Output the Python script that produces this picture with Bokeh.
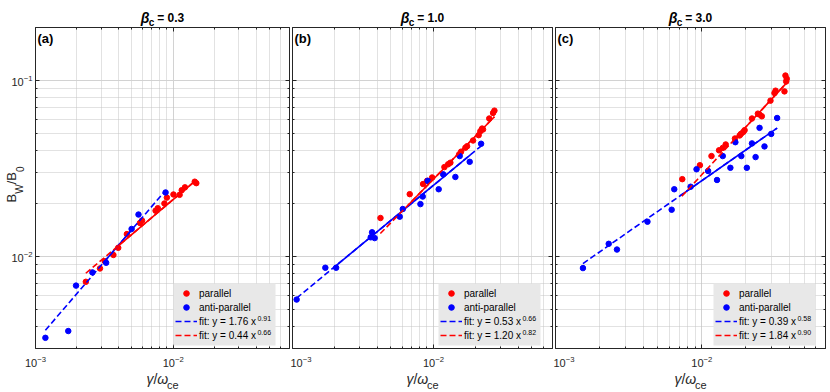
import math
from bokeh.plotting import figure
from bokeh.models import (Range1d, FixedTicker, LogAxis, Label, Legend, LegendItem,
                          BoxAnnotation, CustomJSTickFormatter)
from bokeh.layouts import row
from bokeh.embed import file_html
from bokeh.resources import INLINE

FONT = "Liberation Sans"
RED = "#ff0000"
BLUE = "#0000ff"
AX = "#262626"

X_LIM = (1e-3, 0.07)
Y_LIM = (0.003, 0.2)
X_MAJOR = [1e-3, 1e-2]
X_MINOR = [2e-3, 3e-3, 4e-3, 5e-3, 6e-3, 7e-3, 8e-3, 9e-3, 2e-2, 3e-2, 4e-2, 5e-2, 6e-2, 7e-2]
Y_MAJOR = [1e-2, 1e-1]
Y_MINOR = [3e-3, 4e-3, 5e-3, 6e-3, 7e-3, 8e-3, 9e-3, 2e-2, 3e-2, 4e-2, 5e-2, 6e-2, 7e-2,
           8e-2, 9e-2, 2e-1]

BETAS = ["0.3", "1.0", "3.0"]
PANEL_TAGS = ["(a)", "(b)", "(c)"]

# ---- panel (a): beta_c = 0.3 ----
A_PAR_X = [0.00232, 0.00294, 0.00319, 0.00368, 0.00399, 0.00461, 0.00574, 0.00594, 0.00745,
           0.00773, 0.00864, 0.0090, 0.01005, 0.01114, 0.01154, 0.01218, 0.01435, 0.01473]
A_PAR_Y = [0.00718, 0.00855, 0.0094, 0.0102, 0.0112, 0.0134, 0.0155, 0.0160, 0.0182,
           0.0188, 0.0200, 0.0216, 0.0225, 0.0224, 0.0238, 0.0247, 0.0266, 0.0261]
A_ANTI_X = [0.00118, 0.00173, 0.00197, 0.00259, 0.00326, 0.00499, 0.0056, 0.00881]
A_ANTI_Y = [0.00345, 0.00377, 0.00683, 0.00812, 0.00921, 0.01433, 0.01731, 0.0231]
A_FIT_ANTI = (1.76, 0.91)
A_FIT_PAR = (0.44, 0.66)
A_ANTI_DASH = [0.00118, 0.0088]
A_ANTI_SOLID = [0.0031, 0.0049]
A_PAR_DASH = [0.00232, 0.0147]
A_PAR_SOLID = [0.0038, 0.0147]

# ---- panel (b): beta_c = 1.0 ----
B_PAR_X = [0.0271, 0.0265, 0.0249, 0.02215, 0.02154, 0.02094, 0.0225, 0.01912, 0.01734, 0.01687,
           0.01572, 0.01522, 0.0132, 0.01272, 0.01197, 0.00979, 0.00902, 0.00845, 0.00679, 0.00421]
B_PAR_Y = [0.0674, 0.0654, 0.0608, 0.0533, 0.0515, 0.0489, 0.0527, 0.0456, 0.0423, 0.0415,
           0.0394, 0.0380, 0.0341, 0.0334, 0.0322, 0.0281, 0.0269, 0.0258, 0.0226, 0.01654]
B_ANTI_X = [0.0218, 0.01809, 0.01536, 0.01432, 0.01172, 0.0109, 0.00911, 0.0084, 0.00809,
            0.00606, 0.00577, 0.00367, 0.00359, 0.00383, 0.00171, 0.00204, 0.00107]
B_ANTI_Y = [0.0437, 0.0345, 0.0372, 0.0283, 0.0293, 0.0241, 0.0269, 0.0219, 0.01984,
            0.0186, 0.01683, 0.01372, 0.01285, 0.01272, 0.00863, 0.00863, 0.00569]
B_FIT_ANTI = (0.53, 0.66)
B_FIT_PAR = (1.20, 0.82)
B_ANTI_DASH = [0.00107, 0.0218]
B_ANTI_SOLID = [0.0020, 0.0183]
B_PAR_DASH = [0.0042, 0.0271]
B_PAR_SOLID = [0.0066, 0.0271]

# ---- panel (c): beta_c = 3.0 ----
C_PAR_X = [0.03727, 0.03804, 0.0377, 0.0367, 0.0319, 0.03137, 0.02946, 0.0257, 0.0248, 0.02415,
           0.022, 0.0196, 0.0192, 0.0185, 0.01813, 0.01684, 0.01456, 0.0139, 0.01311, 0.01164,
           0.0097, 0.00735]
C_PAR_Y = [0.1067, 0.1022, 0.0987, 0.0867, 0.0875, 0.0848, 0.0768, 0.0626, 0.0640, 0.0648,
           0.0608, 0.0522, 0.0510, 0.0497, 0.0487, 0.0468, 0.0433, 0.0414, 0.0401, 0.0372,
           0.0330, 0.0275]
C_ANTI_X = [0.0327, 0.0248, 0.0298, 0.01695, 0.022, 0.0268, 0.0139, 0.01862, 0.0233, 0.01567,
            0.0203, 0.0092, 0.01104, 0.0127, 0.00838, 0.00648, 0.00622, 0.00425, 0.00231,
            0.00263, 0.00154]
C_ANTI_Y = [0.0612, 0.0538, 0.0497, 0.0446, 0.0439, 0.0422, 0.0372, 0.0372, 0.0367, 0.0319,
            0.0319, 0.0313, 0.0306, 0.0272, 0.0249, 0.0241, 0.01843, 0.01576, 0.0118,
            0.01095, 0.00859]
C_FIT_ANTI = (0.39, 0.58)
C_FIT_PAR = (1.84, 0.90)
C_ANTI_DASH = [0.00154, 0.0327]
C_ANTI_SOLID = [0.0071, 0.0327]
C_PAR_DASH = [0.0073, 0.0377]
C_PAR_SOLID = [0.0163, 0.0377]

# approximate Arial / Liberation Sans advance widths (per 1000 em)
WID = {' ': 278, '(': 333, ')': 333, '.': 278, '/': 278, ':': 278, '=': 584, '-': 333,
       'a': 556, 'b': 556, 'c': 500, 'e': 556, 'f': 278, 'i': 222, 'l': 222, 'n': 556,
       'p': 556, 'r': 333, 't': 278, 'x': 500, 'y': 500, 'B': 667, 'W': 944,
       'β': 575, 'γ': 500, 'ω': 690}


def tw(s, size):
    return sum(WID.get(ch, 556) for ch in s) * size / 1000.0


def rich(p, parts, x, y, vertical=False, color="#000000"):
    total = sum(tw(t, s) for t, s, _, _ in parts)
    off = -total / 2.0
    for t, s, shift, style in parts:
        core = t.lstrip(" ")
        lead = tw(t[:len(t) - len(core)], s)
        if vertical:
            lab = Label(x=x - shift, y=y + off + lead, angle=math.pi / 2)
        else:
            lab = Label(x=x + off + lead, y=y + shift)
        lab.update(x_units="screen", y_units="screen", text=core, text_font=FONT,
                   text_font_size=f"{s}px", text_font_style=style, text_align="left",
                   text_baseline="alphabetic", text_color=color)
        p.add_layout(lab)
        off += tw(t, s)


def fit_y(fit, xs):
    a, b = fit
    return [a * xv ** b for xv in xs]


def log_range(lim, px_lo, px_hi, total):
    lo, hi = math.log10(lim[0]), math.log10(lim[1])
    d = (px_hi - px_lo) / (hi - lo)
    return Range1d(10 ** (lo - px_lo / d), 10 ** (hi + (total - px_hi) / d))


FIG_H = 390
BOX_TOP = 27      # px from figure top
BOX_BOT = 348     # px from figure top


def style_axis(ax, is_x, labels):
    ax.ticker = FixedTicker(ticks=X_MAJOR if is_x else Y_MAJOR,
                            minor_ticks=X_MINOR if is_x else Y_MINOR)
    ax.bounds = X_LIM if is_x else Y_LIM
    ax.major_tick_in = 4
    ax.major_tick_out = 0
    ax.minor_tick_in = 2
    ax.minor_tick_out = 0
    ax.axis_line_color = AX
    ax.major_tick_line_color = AX
    ax.minor_tick_line_color = AX
    if labels:
        ax.major_label_text_font = FONT
        ax.major_label_text_font_size = "11px"
        ax.major_label_text_color = AX
        ax.major_label_standoff = 7 if is_x else 3
    else:
        ax.formatter = CustomJSTickFormatter(code="return ''")
        ax.major_label_text_font_size = "1px"
        ax.major_label_text_alpha = 0
        ax.major_label_standoff = 0


def panel(i, width, bl, br, par_x, par_y, anti_x, anti_y, fit_anti, fit_par,
          anti_dash, anti_solid, par_dash, par_solid, box_left):
    H = FIG_H
    L, R = bl, width - br
    p = figure(width=width, height=H, x_axis_type="log", y_axis_type="log",
               x_range=log_range(X_LIM, L, R, width),
               y_range=log_range(Y_LIM, H - BOX_BOT, H - BOX_TOP, H),
               output_backend="svg", toolbar_location=None,
               min_border=0, min_border_left=0, min_border_right=0,
               min_border_top=0, min_border_bottom=0)
    p.outline_line_color = None
    p.background_fill_color = "#ffffff"
    p.border_fill_color = "#ffffff"

    bottom = p.xaxis[0]
    left = p.yaxis[0]
    style_axis(bottom, True, True)
    style_axis(left, False, i == 0)
    bottom.fixed_location = Y_LIM[0]
    left.fixed_location = X_LIM[0]
    top = LogAxis()
    right = LogAxis()
    style_axis(top, True, False)
    style_axis(right, False, False)
    top.fixed_location = Y_LIM[1]
    right.fixed_location = X_LIM[1]
    p.add_layout(top, "above")
    p.add_layout(right, "right")

    p.xgrid.ticker = bottom.ticker
    p.ygrid.ticker = left.ticker
    p.xgrid.bounds = X_LIM
    p.ygrid.bounds = Y_LIM
    p.xgrid.cross_bounds = Y_LIM
    p.ygrid.cross_bounds = X_LIM
    for g in (p.xgrid, p.ygrid):
        g.grid_line_color = "#d2d2d2"
        g.minor_grid_line_color = "#c4c4c4"
        g.minor_grid_line_dash = "1 1"

    r_par = p.scatter(par_x, par_y, size=5.5, color=RED)
    r_anti = p.scatter(anti_x, anti_y, size=5.5, color=BLUE)
    r_ad = p.line(anti_dash, fit_y(fit_anti, anti_dash), color=BLUE, line_width=1.6,
                  line_dash="6 3")
    p.line(anti_solid, fit_y(fit_anti, anti_solid), color=BLUE, line_width=1.6)
    r_pd = p.line(par_dash, fit_y(fit_par, par_dash), color=RED, line_width=1.6,
                  line_dash="6 3")
    p.line(par_solid, fit_y(fit_par, par_solid), color=RED, line_width=1.6)

    lb = box_left
    vb = H - 345
    box = BoxAnnotation(left=lb, right=lb + 102, bottom=vb, top=vb + 62,
                        left_units="screen", right_units="screen",
                        bottom_units="screen", top_units="screen",
                        fill_color="#e8e8e8", fill_alpha=1.0, line_color=None)
    p.add_layout(box)
    lbl_a = f"fit: y = {fit_anti[0]:.2f} x"
    lbl_p = f"fit: y = {fit_par[0]:.2f} x"
    legend = Legend(items=[LegendItem(label="parallel", renderers=[r_par]),
                           LegendItem(label="anti-parallel", renderers=[r_anti]),
                           LegendItem(label=lbl_a, renderers=[r_ad]),
                           LegendItem(label=lbl_p, renderers=[r_pd])],
                    location=(lb - 1, vb), padding=3, spacing=0, margin=0,
                    glyph_width=22, glyph_height=14, label_height=14, label_standoff=2,
                    background_fill_alpha=0, border_line_alpha=0,
                    label_text_font=FONT, label_text_font_size="10px",
                    label_text_color="#000000")
    p.add_layout(legend)
    tx = lb + 26
    for lbl, fit, cy in ((lbl_a, fit_anti, vb + 24), (lbl_p, fit_par, vb + 10)):
        p.add_layout(Label(x=tx + tw(lbl, 10) + 1, y=cy + 3, x_units="screen",
                           y_units="screen", text=f"{fit[1]:.2f}", text_font=FONT,
                           text_font_size="7px", text_align="left",
                           text_baseline="alphabetic", text_color="#000000"))

    cx = (L + R) / 2.0
    # title
    rich(p, [("β", 14, 0, "bold italic"), ("c", 10, -5, "bold"),
             (" = " + BETAS[i], 12, 0, "bold")], cx, H - 17)
    # panel tag
    p.add_layout(Label(x=L + 2, y=H - BOX_TOP - 3, x_units="screen", y_units="screen",
                       text=PANEL_TAGS[i], text_font=FONT, text_font_size="13px",
                       text_font_style="bold", text_align="left", text_baseline="top",
                       text_color="#000000"))
    # x label
    rich(p, [("γ", 14, 0, "italic"), ("/", 14, 0, "normal"), ("ω", 14, 0, "italic"),
             ("ce", 11, -6, "normal")], cx, H - 378, color=AX)
    if i == 0:
        rich(p, [("B", 13, 0, "normal"), ("W", 10, -8, "normal"), ("/B", 13, 0, "normal"),
                 ("0", 10, -8, "normal")], 11, H - 184, vertical=True, color=AX)
    return p


# figure widths and frame insets (Bokeh's page template has no body margin)
pa = panel(0, 290, 35, 1, A_PAR_X, A_PAR_Y, A_ANTI_X, A_ANTI_Y, A_FIT_ANTI, A_FIT_PAR,
           A_ANTI_DASH, A_ANTI_SOLID, A_PAR_DASH, A_PAR_SOLID, 173)
pb = panel(1, 263, 2, 1, B_PAR_X, B_PAR_Y, B_ANTI_X, B_ANTI_Y, B_FIT_ANTI, B_FIT_PAR,
           B_ANTI_DASH, B_ANTI_SOLID, B_PAR_DASH, B_PAR_SOLID, 148)
pc = panel(2, 277, 2, 5, C_PAR_X, C_PAR_Y, C_ANTI_X, C_ANTI_Y, C_FIT_ANTI, C_FIT_PAR,
           C_ANTI_DASH, C_ANTI_SOLID, C_PAR_DASH, C_PAR_SOLID, 160)

layout = row(pa, pb, pc, spacing=0)
open("out.html", "w").write(file_html(layout, INLINE))
